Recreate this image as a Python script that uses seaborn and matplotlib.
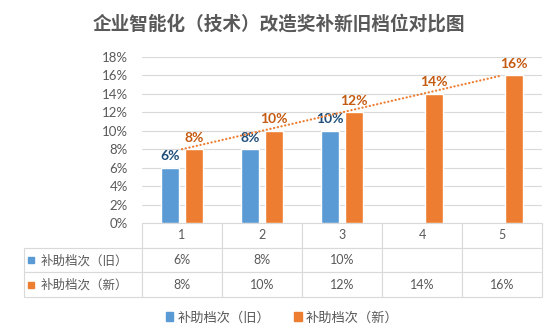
import numpy as np
import pandas as pd
import seaborn as sns
import matplotlib
matplotlib.use("Agg")
import matplotlib.pyplot as plt
from matplotlib.patches import Patch

# ---- data ----
categories = ["1", "2", "3", "4", "5"]
old_rate = [6, 8, 10, np.nan, np.nan]
new_rate = [8, 10, 12, 14, 16]
series_names = ["补助档次（旧）", "补助档次（新）"]
title = "企业智能化（技术）改造奖补新旧档位对比图"
y_ticks = [0, 2, 4, 6, 8, 10, 12, 14, 16, 18]

blue, orange = "#5B9BD5", "#ED7D31"
blue_lbl, orange_lbl = "#1F4E79", "#C55A11"
grey_txt, grid_col = "#595959", "#D9D9D9"

df = pd.DataFrame({
    "档位": categories * 2,
    "比例": old_rate + new_rate,
    "系列": [series_names[0]] * len(categories) + [series_names[1]] * len(categories),
})

sns.set_theme(style="white")
plt.rcParams["font.family"] = ["Lato", "Noto Sans CJK SC", "DejaVu Sans"]

W, H = 550, 325
fig = plt.figure(figsize=(W / 100, H / 100), dpi=100)
ax_l, ax_r, ax_t, ax_b = 142, 542, 57, 223
ax = fig.add_axes([ax_l / W, 1 - ax_b / H, (ax_r - ax_l) / W, (ax_b - ax_t) / H])

sns.barplot(data=df, x="档位", y="比例", hue="系列", hue_order=series_names,
            palette=[blue, orange], width=0.6, gap=0.25, saturation=1,
            legend=False, ax=ax, errorbar=None)

# value labels
for cont, col in zip(ax.containers, [blue_lbl, orange_lbl]):
    ax.bar_label(cont, fmt="{:g}%", padding=4, color=col, fontsize=10,
                 fontweight="bold")

# linear trendline of the new series
xs = np.arange(len(categories))
coef = np.polyfit(xs, new_rate, 1)
ax.plot(xs, np.polyval(coef, xs), linestyle=(0, (0.1, 1.6)), color=orange,
        lw=1.6, dash_capstyle="round", zorder=3)

ax.set_xlim(-0.5, len(categories) - 0.5)
ax.set_ylim(0, 18)
ax.set_yticks(y_ticks)
ax.set_yticklabels([f"{v}%" for v in y_ticks])
ax.set_xticks([])
ax.set_xlabel("")
ax.set_ylabel("")
ax.tick_params(axis="y", length=0, pad=10, labelsize=9.5, labelcolor=grey_txt)
ax.yaxis.grid(True, color=grid_col, lw=0.8)
ax.set_axisbelow(True)
for s in ax.spines.values():
    s.set_visible(False)

# data table under the axis
lbl_w = (ax_l - 24) / (ax_r - ax_l)
tbl_h = 74 / (ax_b - ax_t)
cell_text = [[""] + categories,
             [series_names[0]] + ["" if np.isnan(v) else f"{v:g}%" for v in old_rate],
             [series_names[1]] + [f"{v:g}%" for v in new_rate]]
tbl = ax.table(cellText=cell_text, colWidths=[lbl_w] + [1 / len(categories)] * len(categories),
               bbox=[-lbl_w, -tbl_h, 1 + lbl_w, tbl_h], cellLoc="center")
tbl.auto_set_font_size(False)
tbl.set_fontsize(9)
for (r, c), cell in tbl.get_celld().items():
    cell.set_edgecolor(grid_col)
    cell.set_linewidth(0.8)
    cell.get_text().set_color(grey_txt)
    if r == 0 and c == 0:
        cell.visible_edges = "open"
    if c == 0 and r > 0:
        cell._loc = "left"
        cell.get_text().set_ha("left")
        cell.PAD = 0.14

# colour keys in the row headers
row_h = tbl_h / 3
for i, col in enumerate([blue, orange]):
    ax.plot([-lbl_w + 6.5 / (ax_r - ax_l)], [-row_h * (i + 1.5)], marker="s",
            ms=5, color=col, transform=ax.transAxes, clip_on=False)

fig.text(278.5 / W, 1 - 24 / H, title, ha="center", va="center", fontsize=13.4,
         fontweight="bold", color=grey_txt, family=["Noto Sans CJK SC"])

handles = [Patch(color=blue, label=series_names[0]),
           Patch(color=orange, label=series_names[1])]
fig.legend(handles=handles, loc="center", bbox_to_anchor=(282 / W, 1 - 317 / H),
           ncol=2, frameon=False, fontsize=9.5, handlelength=0.6, handleheight=0.6,
           handletextpad=0.3, columnspacing=1.8, labelcolor=grey_txt)

fig.savefig("out.png", dpi=100)
